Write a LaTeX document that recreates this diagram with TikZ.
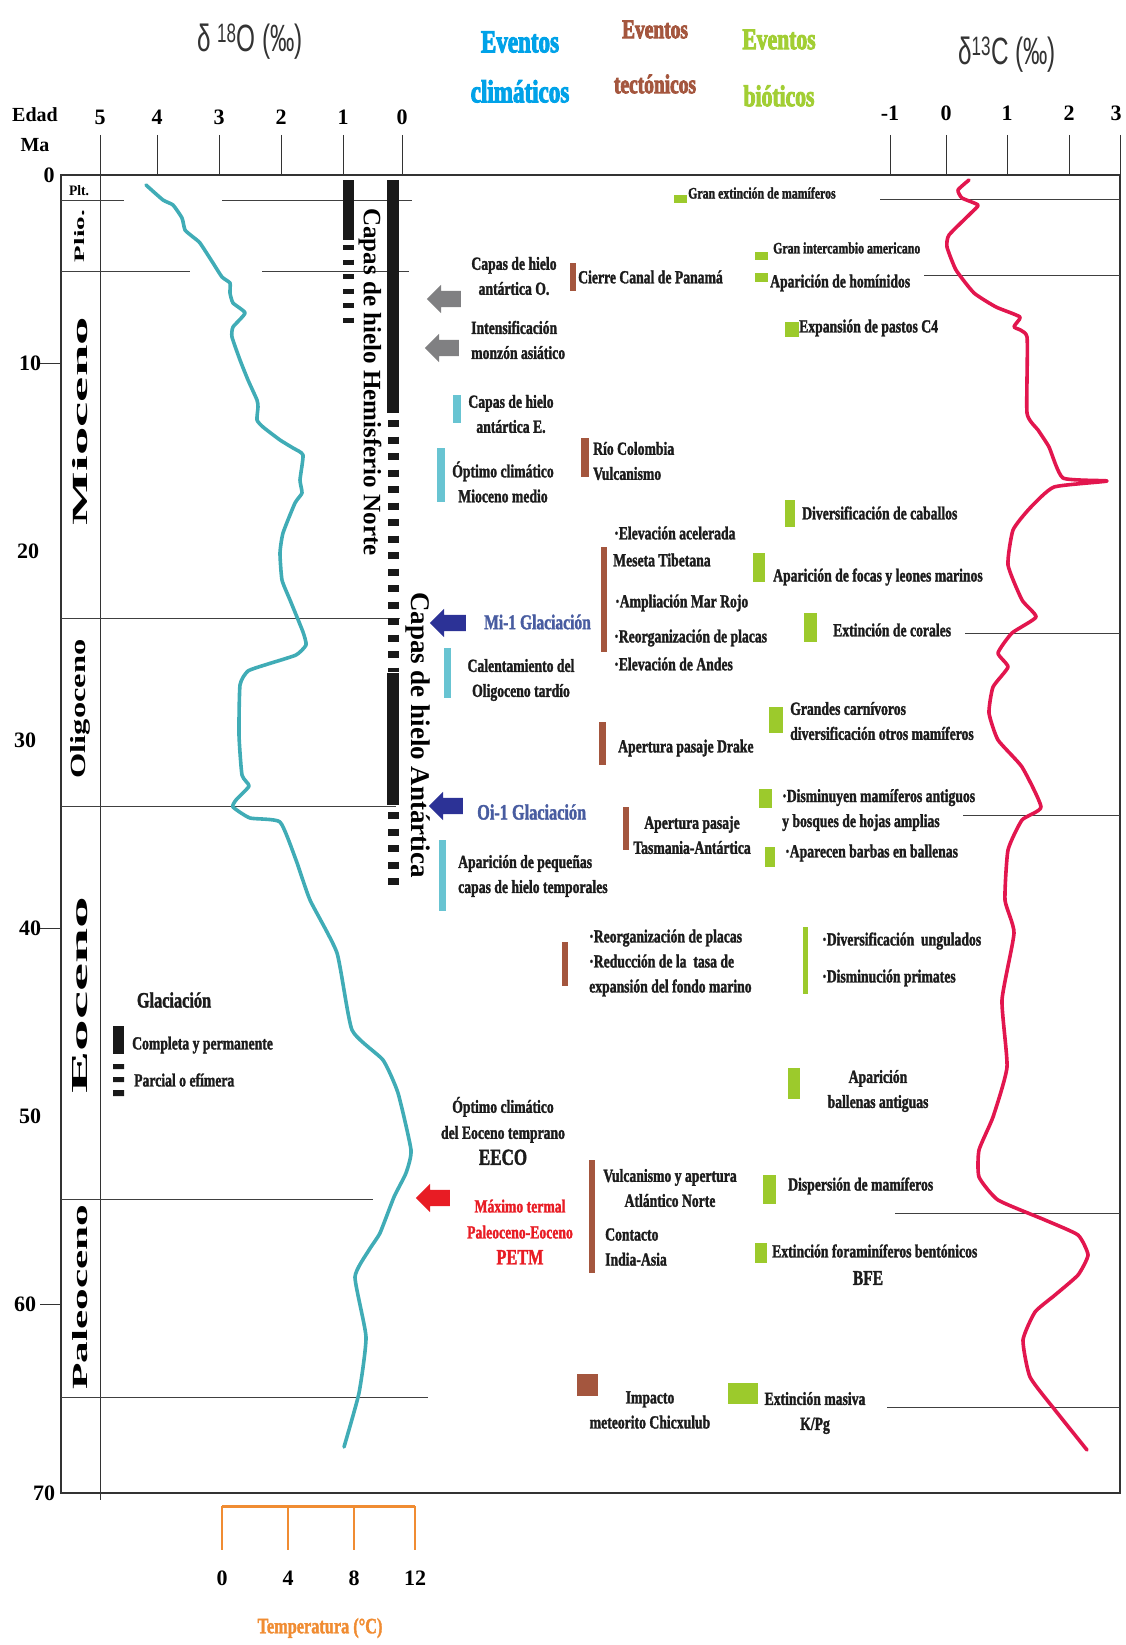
\documentclass[tikz,border=0pt]{standalone}
\usepackage{fontspec}
\usepackage{graphicx}
\setmainfont{Liberation Serif}
\newfontfamily\evfont{Liberation Serif Bold}[FakeStretch=0.74, FakeBold=1.6]
\newfontfamily\hevfont{Liberation Serif Bold}[FakeStretch=0.72, FakeBold=3]
\newfontfamily\hdfont{Liberation Sans}[FakeStretch=0.64]
\usetikzlibrary{shapes.arrows}

\definecolor{curveteal}{RGB}{64,172,182}
\definecolor{curvered}{RGB}{226,22,78}
\definecolor{climcyan}{RGB}{104,196,210}
\definecolor{tectbrown}{RGB}{164,86,62}
\definecolor{biogreen}{RGB}{156,202,44}
\definecolor{hdcyan}{RGB}{0,162,232}
\definecolor{hdgreen}{RGB}{162,206,52}
\definecolor{arrgray}{RGB}{128,128,130}
\definecolor{arrnavy}{RGB}{44,50,150}
\definecolor{mislate}{RGB}{72,92,160}
\definecolor{petmred}{RGB}{232,28,36}
\definecolor{temporange}{RGB}{240,140,50}
\definecolor{evtext}{RGB}{28,28,28}

\tikzset{
  ev/.style={font=\evfont\fontsize{18.5}{25}\selectfont, text=evtext, inner sep=0pt, anchor=west, align=left},
  evc/.style={ev, anchor=center, align=center},
  evs/.style={ev, font=\evfont\fontsize{16}{20}\selectfont},
  axnum/.style={font=\bfseries\fontsize{22}{22}\selectfont, inner sep=0pt},
  bnd/.style={black!75, line width=1pt},
  climbar/.style={fill=climcyan},
  tectbar/.style={fill=tectbrown},
  biobar/.style={fill=biogreen},
  blockarrow/.style={single arrow, shape border rotate=180, draw=none, inner xsep=0pt, inner ysep=8pt,
    minimum height=34pt, minimum width=27pt, single arrow head extend=6pt},
}

\begin{document}
\begin{tikzpicture}[x=1pt,y=-1pt,
    glacbar/.style={fill=black!90},
    glacdash/.style={black!90, line width=11pt, dash pattern=on 7pt off 9.5pt},
    curve/.style={line width=3.6pt, line join=round, line cap=round}]
\useasboundingbox (0,0) rectangle (1125,1645);

% headers
\node[font=\hdfont\fontsize{38}{38}\selectfont, text=black!80, inner sep=0pt] (dO) at (250,42) {δ\,\textsuperscript{18}O (‰)};
\node[font=\hdfont\fontsize{38}{38}\selectfont, text=black!80, inner sep=0pt] (dC) at (1007,55) {δ\textsuperscript{13}C (‰)};
\node[font=\hevfont\fontsize{32}{50}\selectfont, text=hdcyan, align=center, inner sep=0pt] (hclim) at (520,67) {Eventos\\climáticos};
\node[font=\hevfont\fontsize{27}{55}\selectfont, text=tectbrown, align=center, inner sep=0pt] (htect) at (655,57) {Eventos\\tectónicos};
\node[font=\hevfont\fontsize{30}{57}\selectfont, text=hdgreen, align=center, inner sep=0pt] (hbio) at (779,68) {Eventos\\bióticos};

% axes
\node[font=\bfseries\fontsize{20}{20}\selectfont, inner sep=0pt] (edad) at (35,115) {Edad};
\node[font=\bfseries\fontsize{20}{20}\selectfont, inner sep=0pt] (ma) at (35,145) {Ma};
\foreach \v/\xx in {5/100,4/157,3/219,2/281,1/343,0/402}{
  \node[axnum] (o\v) at (\xx,117) {\v};
  \draw[black!80, line width=0.8pt] (\xx,135) -- (\xx,175);
}
\foreach \v/\xx/\n in {-1/890/m,0/946/a,1/1007/b,2/1069/c,3/1116/d}{
  \node[axnum] (c\n) at (\xx,113) {\v};
}
\foreach \xx in {890,946,1007,1069,1120}
  \draw[black!80, line width=0.8pt] (\xx,135) -- (\xx,175);
\draw[black!80, line width=1.6pt] (61,175) rectangle (1120,1493);
\draw[black!80, line width=0.8pt] (100,175) -- (100,1500);
\foreach \a/\lx in {0/49,10/30,20/28,30/25,40/30,50/30,60/25,70/44}{
  \pgfmathsetmacro{\yy}{175+18.829*\a}
  \node[axnum] (age\a) at (\lx,\yy) {\a};
}
\foreach \a in {10,40,60}{
  \pgfmathsetmacro{\yy}{175+18.829*\a}
  \draw[black!80, line width=1pt] (40,\yy) -- (61,\yy);
}

% epoch boundaries
\draw[bnd] (61,201) -- (124,201) (222,201) -- (412,201) (880,200) -- (1120,200);
\draw[bnd] (61,271) -- (190,271) (262,271) -- (409,271) (924,275) -- (1120,275);
\draw[bnd] (61,618) -- (400,618) (965,633) -- (1120,633);
\draw[bnd] (61,806) -- (396,806) (963,815) -- (1120,815);
\draw[bnd] (61,1199) -- (373,1199) (895,1213) -- (1120,1213);
\draw[bnd] (61,1397) -- (428,1397) (887,1407) -- (1120,1407);

% epochs
\node[inner sep=0pt] (plt) at (79,191) {\resizebox{20pt}{10pt}{\bfseries Plt.}};
\node[rotate=90, inner sep=0pt] (plio) at (80,236) {\resizebox{52pt}{10pt}{\bfseries Plio.}};
\node[rotate=90, inner sep=0pt] (mio) at (80,421) {\resizebox{208pt}{15pt}{\bfseries Mioceno}};
\node[rotate=90, inner sep=0pt] (oligo) at (80,709) {\resizebox{139pt}{15pt}{\bfseries Oligoceno}};
\node[rotate=90, inner sep=0pt] (eoc) at (80,995) {\resizebox{197pt}{15pt}{\bfseries Eoceno}};
\node[rotate=90, inner sep=0pt] (paleo) at (80,1297) {\resizebox{185pt}{15pt}{\bfseries Paleoceno}};

% ice sheets
\fill[glacbar] (343,180) rectangle (354,240);
\draw[glacdash, line width=11pt, dash pattern=on 5pt off 9.5pt] (348.5,245) -- (348.5,330);
\fill[glacbar] (387,180) rectangle (399,413);
\draw[glacdash] (393,420) -- (393,672);
\fill[glacbar] (387,673) rectangle (399,805);
\draw[glacdash] (393,812) -- (393,888);
\node[rotate=-90, font=\bfseries\fontsize{25}{25}\selectfont, inner sep=0pt] (nhlabel) at (370,382) {Capas de hielo Hemisferio Norte};
\node[rotate=-90, font=\bfseries\fontsize{27}{27}\selectfont, inner sep=0pt] (antlabel) at (418,735) {Capas de hielo Antártica};

% legend
\node[evc, font=\evfont\fontsize{22}{22}\selectfont] (glac) at (174,1000) {Glaciación};
\fill[glacbar] (113,1026) rectangle (124,1054);
\node[ev] (completa) at (132,1045) {Completa y permanente};
\fill[glacbar] (113,1064) rectangle (124,1069) (113,1077) rectangle (124,1082) (113,1090) rectangle (124,1096);
\node[ev] (parcial) at (134,1080) {Parcial o efímera};

% curves
\draw[curve, curveteal] plot[smooth, tension=0.3] coordinates {(146,185) (163,200) (173,205) (182,218) (185,230) (193,237) (200,243) (213,263) (222,277) (230,283) (230,293) (233,303) (245,313) (233,327) (232,337) (240,360) (248,380) (257,400) (258,407) (257,420) (263,427) (280,440) (293,448) (303,455) (300,480) (302,493) (295,503) (283,533) (280,553) (282,580) (290,600) (303,632) (306,645) (296,655) (268,664) (248,671) (240,685) (239,735) (242,775) (249,786) (236,800) (233,807) (250,818) (280,822) (296,860) (310,900) (337,953) (352,1030) (383,1060) (398,1093) (411,1150) (406,1173) (394,1197) (380,1233) (369,1250) (355,1277) (366,1337) (359,1393) (344,1447)};
\draw[curve, curvered] plot[smooth, tension=0.3] coordinates {(969,180) (958,190) (962,198) (978,205) (971,213) (949,235) (947,247) (956,270) (974,293) (996,307) (1020,317) (1014,327) (1027,337) (1027,413) (1038,430) (1049,447) (1063,478) (1107,481) (1054,487) (1030,508) (1013,530) (1008,565) (1022,600) (1036,617) (1012,633) (998,653) (1008,667) (993,687) (989,713) (998,740) (1022,767) (1041,807) (1022,820) (1008,850) (1005,900) (1014,933) (1002,1000) (1007,1067) (993,1117) (979,1150) (979,1177) (998,1200) (1045,1220) (1078,1235) (1088,1255) (1078,1275) (1055,1295) (1035,1312) (1023,1340) (1030,1377) (1055,1410) (1087,1450)};

% climatic events
\node[blockarrow, fill=arrgray] (arrO) at (448,299) {};
\node[evc] (capasO) at (514,276) {Capas de hielo\\antártica O.};
\node[blockarrow, fill=arrgray] (arrmonz) at (446,348) {};
\node[ev] (monzon) at (471,340) {Intensificación\\monzón asiático};
\fill[climbar] (453,395) rectangle (461,423);
\node[evc] (capasE) at (511,414) {Capas de hielo\\antártica E.};
\fill[climbar] (437,448) rectangle (445,502);
\node[evc] (optmio) at (503,482) {Óptimo climático\\Mioceno medio};
\node[blockarrow, fill=arrnavy, minimum height=36pt, minimum width=28pt] (arrmi) at (452,623) {};
\node[ev, text=mislate, font=\evfont\fontsize{21}{25}\selectfont] (mi1) at (484,622) {Mi-1 Glaciación};
\fill[climbar] (444,648) rectangle (451,698);
\node[evc] (calol) at (521,680) {Calentamiento del\\Oligoceno tardío};
\node[blockarrow, fill=arrnavy] (arroi) at (450,806) {};
\node[ev, text=mislate, font=\evfont\fontsize{22}{25}\selectfont] (oi1) at (477,812) {Oi-1 Glaciación};
\fill[climbar] (439,840) rectangle (446,911);
\node[ev] (pequenas) at (458,876) {Aparición de pequeñas\\capas de hielo temporales};
\node[evc, font=\evfont\fontsize{18.5}{26}\selectfont] (eeco) at (503,1131) {Óptimo climático\\del Eoceno temprano\\{\fontsize{23}{26}\selectfont EECO}};
\node[blockarrow, fill=petmred] (arrpetm) at (437,1198) {};
\node[evc, text=petmred, font=\evfont\fontsize{18.5}{26}\selectfont] (petm) at (520,1232) {Máximo termal\\Paleoceno-Eoceno\\{\fontsize{22}{26}\selectfont PETM}};

% tectonic events
\fill[tectbar] (570,263) rectangle (576,291);
\node[ev] (panama) at (578,277) {Cierre Canal de Panamá};
\fill[tectbar] (581,438) rectangle (589,477);
\node[ev] (colombia) at (593,461) {Río Colombia\\Vulcanismo};
\fill[tectbar] (601,547) rectangle (607,652);
\node[ev] (tibet) at (614,533) {·Elevación acelerada};
\node[ev] (meseta) at (613,560) {Meseta Tibetana};
\node[ev] (rojo) at (615,603) {·Ampliación Mar Rojo};
\node[ev] (placas) at (614,638) {·Reorganización de placas};
\node[ev] (andes) at (614,664) {·Elevación de Andes};
\fill[tectbar] (599,722) rectangle (606,765);
\node[ev] (drake) at (618,748) {Apertura pasaje Drake};
\fill[tectbar] (623,807) rectangle (629,850);
\node[evc] (tasman) at (692,835) {Apertura pasaje\\Tasmania-Antártica};
\fill[tectbar] (562,942) rectangle (568,986);
\node[ev] (reorg) at (589,963) {·Reorganización de placas\\·Reducción de la\ \ tasa de\\expansión del fondo marino};
\fill[tectbar] (589,1160) rectangle (595,1273);
\node[evc] (atlant) at (670,1188) {Vulcanismo y apertura\\Atlántico Norte};
\node[ev] (india) at (605,1247) {Contacto\\India-Asia};
\fill[tectbar] (577,1374) rectangle (598,1396);
\node[evc] (chicx) at (650,1410) {Impacto\\meteorito Chicxulub};

% biotic events
\fill[biobar] (674,195) rectangle (687,203);
\node[evs] (granext) at (688,193) {Gran extinción de mamíferos};
\fill[biobar] (755,252) rectangle (768,260);
\node[evs] (interc) at (773,248) {Gran intercambio americano};
\fill[biobar] (755,273) rectangle (768,282);
\node[ev] (hominid) at (770,283) {Aparición de homínidos};
\fill[biobar] (785,322) rectangle (799,337);
\node[ev] (pastos) at (799,328) {Expansión de pastos C4};
\fill[biobar] (785,500) rectangle (795,527);
\node[ev] (caballos) at (802,513) {Diversificación de caballos};
\fill[biobar] (753,553) rectangle (765,582);
\node[ev] (focas) at (773,577) {Aparición de focas y leones marinos};
\fill[biobar] (804,613) rectangle (817,642);
\node[ev] (corales) at (833,630) {Extinción de corales};
\fill[biobar] (769,707) rectangle (783,733);
\node[ev] (carniv) at (790,721) {Grandes carnívoros\\diversificación otros mamíferos};
\fill[biobar] (759,789) rectangle (772,808);
\node[ev] (disminuyen) at (782,810) {·Disminuyen mamíferos antiguos\\y bosques de hojas amplias};
\fill[biobar] (765,847) rectangle (775,867);
\node[ev] (barbas) at (785,853) {·Aparecen barbas en ballenas};
\fill[biobar] (803,927) rectangle (808,994);
\node[ev] (ungul) at (822,941) {·Diversificación\ \ ungulados};
\node[ev] (primates) at (822,978) {·Disminución primates};
\fill[biobar] (788,1068) rectangle (800,1099);
\node[evc] (ballenas) at (878,1091) {Aparición\\ballenas antiguas};
\fill[biobar] (763,1175) rectangle (776,1204);
\node[ev] (dispersion) at (788,1186) {Dispersión de mamíferos};
\fill[biobar] (755,1243) rectangle (767,1263);
\node[ev] (bfe) at (772,1251) {Extinción foraminíferos bentónicos};
\node[evc, font=\evfont\fontsize{21}{25}\selectfont] (bfeabbr) at (868,1278) {BFE};
\fill[biobar] (728,1383) rectangle (758,1404);
\node[evc] (kpg) at (815,1413) {Extinción masiva\\K/Pg};

% temperature scale
\draw[temporange, line width=3pt] (222,1506) -- (415,1506);
\foreach \xx/\t in {222/0,288/4,354/8,415/12}{
  \draw[temporange, line width=1.2pt] (\xx,1506) -- (\xx,1550);
  \node[axnum] (t\t) at (\xx,1578) {\t};
}
\node[font=\evfont\fontsize{22}{22}\selectfont, text=temporange, inner sep=0pt] (templbl) at (320,1628) {Temperatura (°C)};
\end{tikzpicture}
\end{document}
